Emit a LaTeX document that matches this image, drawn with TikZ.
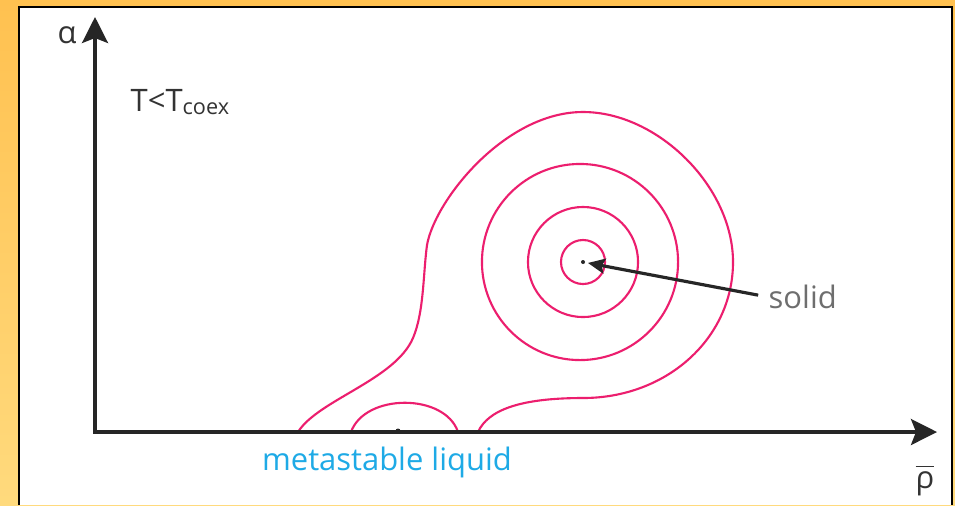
\documentclass[tikz,border=0pt]{standalone}
\usepackage{fontspec}
\setmainfont{Open Sans}
\usetikzlibrary{arrows.meta}
\definecolor{panelorange}{RGB}{255,193,80}
\definecolor{panelyellow}{RGB}{255,218,125}
\definecolor{contourpink}{RGB}{236,30,110}
\definecolor{labelcyan}{RGB}{30,170,230}
\definecolor{labelgray}{RGB}{110,110,110}
\begin{document}
\begin{tikzpicture}[x=0.01cm, y=-0.01cm,
    axis/.style={line width=0.9pt, draw=black!85, {Stealth[length=0.26cm, width=0.26cm, inset=0.05cm]}-{Stealth[length=0.26cm, width=0.26cm, inset=0.05cm]}},
    pointer/.style={line width=0.9pt, draw=black!85, -{Stealth[length=0.17cm, width=0.15cm, inset=0.03cm]}, shorten >=0.05cm, shorten <=0.1cm},
    contour/.style={draw=contourpink, line width=0.6pt},
    lbl/.style={inner sep=0pt, font=\fontsize{8.8}{10}\selectfont}]
    \useasboundingbox (0,0) rectangle (955,505);
    \shade[top color=panelorange, bottom color=panelyellow] (0,0) rectangle (955,505);
    \fill[white] (19,7) rectangle (952,505);
    \draw[line width=0.7pt] (19,505) -- (19,7) -- (952,7) -- (952,505);

    \coordinate (o) at (95,432);
    \coordinate (ytip) at (95,17);
    \coordinate (xtip) at (937,432);
    \coordinate (sdot) at (583,262);
    \coordinate (ldot) at (398,431);

    \draw[contour] (sdot) circle (0.22cm);
    \draw[contour] (sdot) circle (0.55cm);
    \draw[contour] (580,262) circle (0.98cm);
    \draw[contour] (298,432) .. controls (318,400) and (395,380) .. (413,338)
        .. controls (424,312) and (423,275) .. (427,245)
        .. controls (435,200) and (505,112) .. (583,112)
        .. controls (658,112) and (733,187) .. (733,262)
        .. controls (733,338) and (667,398) .. (583,398)
        .. controls (520,398) and (488,410) .. (478,432);
    \draw[contour] (351,432) .. controls (365,393) and (445,393) .. (458,432);

    \draw[axis] (ytip) -- (o) -- (xtip);
    \fill[black!85] (sdot) circle (0.02cm);
    \fill[black!85] (ldot) circle (0.025cm);

    \node[lbl, text=black!80] (alpha) at (67,35) {α};
    \node[lbl, text=black!80, anchor=base west] (cond) at (130,111) {T<T\textsubscript{coex}};
    \node[lbl, text=black!80] (rho) at (925,480) {$\overline{\mbox{ρ}}$};
    \node[lbl, text=labelcyan] (meta) at (387,462) {metastable liquid};
    \node[lbl, text=labelgray, anchor=west] (solid) at (768,297) {solid};

    \draw[pointer] (solid.west) -- (sdot);
\end{tikzpicture}
\end{document}
